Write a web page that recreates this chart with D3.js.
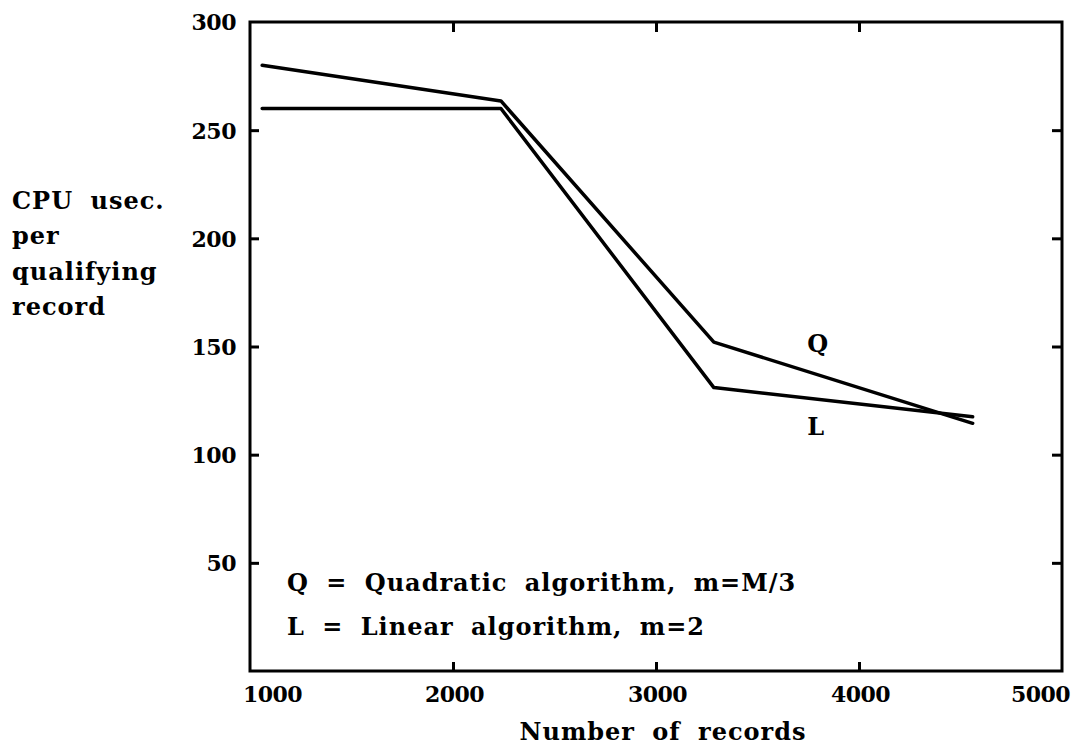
<!DOCTYPE html>
<html>
<head>
<meta charset="utf-8">
<script src="https://cdn.jsdelivr.net/npm/d3@7"></script>
<style>
  body { margin: 0; background: #fff; }
  svg text { font-family: "DejaVu Serif", serif; font-weight: bold; fill: #000; }
</style>
</head>
<body>
<svg id="chart"></svg>
<script>
// data
var xTicks = [1000, 2000, 3000, 4000, 5000];
var yTicks = [50, 100, 150, 200, 250, 300];
var quadX = [1060, 2236, 3285, 4560];
var quadY = [280, 263.5, 152, 114.5];
var linX = [1060, 2236, 3285, 4560];
var linY = [260, 260, 131, 117.5];
var legendLines = ["Q = Quadratic algorithm, m=M/3", "L = Linear algorithm, m=2"];
var yTitle = ["CPU usec.", "per", "qualifying", "record"];

function drawChart() {
  const width = 1077;
  const height = 748;
  const marginLeft = 250;
  const marginRight = 15;
  const marginTop = 22;
  const marginBottom = 77;

  var svg = d3.select("#chart")
      .attr("width", width)
      .attr("height", height);

  const x = d3.scaleLinear([1000, 5000], [marginLeft, width - marginRight]);
  const y = d3.scaleLinear([0, 300], [height - marginBottom, marginTop]);

  // frame
  svg.append("rect")
      .attr("x", x(1000)).attr("y", y(300))
      .attr("width", x(5000) - x(1000)).attr("height", y(0) - y(300))
      .attr("fill", "none").attr("stroke", "#000").attr("stroke-width", 3);

  // bottom axis, ticks pointing in
  svg.append("g")
      .attr("transform", `translate(0,${y(0)})`)
      .call(d3.axisBottom(x).tickValues(xTicks).tickSize(-9).tickPadding(15).tickFormat(d3.format("d")))
      .call(g => g.select(".domain").remove())
      .call(g => g.selectAll(".tick line").attr("stroke-width", 3)
          .filter(d => d == 1000 || d == 5000).remove())
      .call(g => g.selectAll(".tick text").attr("font-size", 22).attr("letter-spacing", -0.5)
          .attr("dy", "0.71em")
          .attr("dx", d => d == 1000 ? 22 : d == 5000 ? -22 : 1));

  // top axis ticks
  svg.append("g")
      .attr("transform", `translate(0,${y(300)})`)
      .call(d3.axisTop(x).tickValues([2000, 3000, 4000]).tickSize(-10).tickFormat(""))
      .call(g => g.select(".domain").remove())
      .call(g => g.selectAll(".tick line").attr("stroke-width", 3));

  // left axis
  svg.append("g")
      .attr("transform", `translate(${x(1000)},0)`)
      .call(d3.axisLeft(y).tickValues(yTicks).tickSize(-9).tickPadding(14))
      .call(g => g.select(".domain").remove())
      .call(g => g.selectAll(".tick line").attr("stroke-width", 3)
          .filter(d => d == 300).remove())
      .call(g => g.selectAll(".tick text").attr("font-size", 22).attr("letter-spacing", -0.5)
          .attr("dy", "0.36em"));

  // right axis ticks
  svg.append("g")
      .attr("transform", `translate(${x(5000)},0)`)
      .call(d3.axisRight(y).tickValues(yTicks.filter(d => d < 300)).tickSize(-10).tickFormat(""))
      .call(g => g.select(".domain").remove())
      .call(g => g.selectAll(".tick line").attr("stroke-width", 3));

  const line = d3.line()
      .x(d => x(d[0]))
      .y(d => y(d[1]));

  var series = [
    d3.zip(quadX, quadY),
    d3.zip(linX, linY)
  ];
  svg.append("g").selectAll("path")
    .data(series)
    .join("path")
      .attr("fill", "none")
      .attr("stroke", "#000")
      .attr("stroke-width", 3.5)
      .attr("stroke-linejoin", "round")
      .attr("stroke-linecap", "round")
      .attr("d", line);

  // series labels
  svg.append("text").attr("x", x(3745)).attr("y", y(147.5)).attr("font-size", 24).text("Q");
  svg.append("text").attr("x", x(3745)).attr("y", y(109)).attr("font-size", 24).text("L");

  // legend
  svg.append("g").selectAll("text")
    .data(legendLines)
    .join("text")
      .attr("x", x(1000) + 37)
      .attr("y", (d, i) => 591 + i * 44)
      .attr("font-size", 24)
      .attr("letter-spacing", 1)
      .attr("word-spacing", 8)
      .text(d => d);

  // y title
  svg.append("g").selectAll("text")
    .data(yTitle)
    .join("text")
      .attr("x", 12)
      .attr("y", (d, i) => 209 + i * 35.3)
      .attr("font-size", 24)
      .attr("letter-spacing", 1)
      .attr("word-spacing", 8)
      .text(d => d);

  // x title
  svg.append("text")
      .attr("x", 663)
      .attr("y", 740)
      .attr("text-anchor", "middle")
      .attr("font-size", 24)
      .attr("letter-spacing", 1)
      .attr("word-spacing", 8)
      .text("Number of records");
}

drawChart();
</script>
</body>
</html>
